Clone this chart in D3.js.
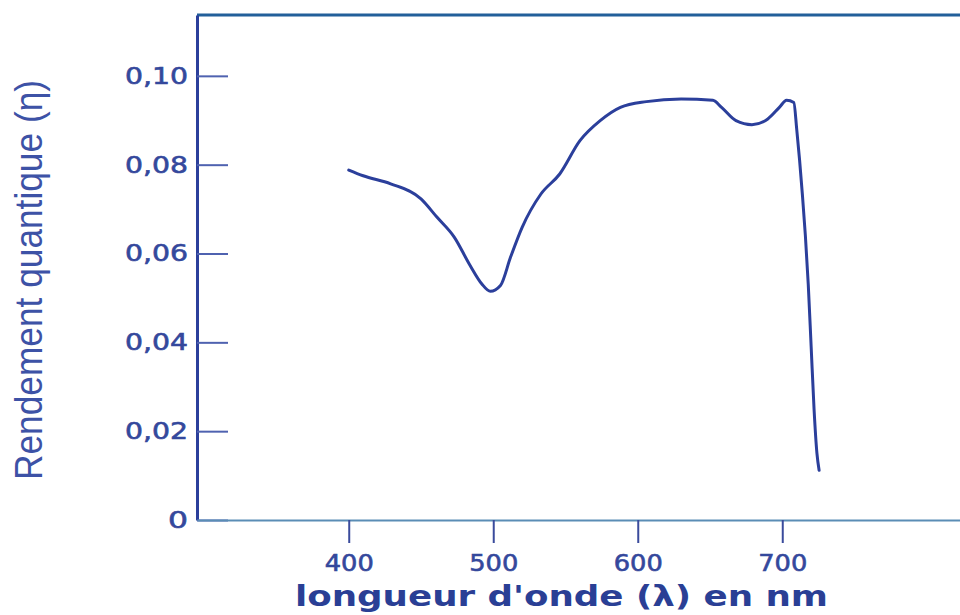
<!DOCTYPE html>
<html>
<head>
<meta charset="utf-8">
<script src="https://cdn.jsdelivr.net/npm/d3@7"></script>
<style>
  html, body { margin: 0; padding: 0; background: #ffffff; }
  svg { display: block; }
</style>
</head>
<body>
<svg id="chart" width="960" height="615"></svg>
<script>
// Quantum yield spectrum (wavelength in nm, yield)
const wavelengths = [400, 410, 429, 450, 461, 473, 484, 492, 498, 505, 512, 520, 533, 546, 560, 574, 588, 606, 630, 652, 658, 668, 679, 690, 698, 703, 708, 710, 712, 714, 716, 718, 720, 722, 724, 725.5];
const yieldValues = [0.0788, 0.0775, 0.0757, 0.0723, 0.0682, 0.0637, 0.0573, 0.0532, 0.0515, 0.0528, 0.0592, 0.0659, 0.0734, 0.0779, 0.0854, 0.0899, 0.0929, 0.0942, 0.0948, 0.0945, 0.0929, 0.0899, 0.0890, 0.0903, 0.0929, 0.0945, 0.0940, 0.0880, 0.0810, 0.0730, 0.0640, 0.0530, 0.0390, 0.0250, 0.0150, 0.0112];

const xTickValues = [400, 500, 600, 700];
const xTickLabels = ["400", "500", "600", "700"];
const yTickValues = [0, 0.02, 0.04, 0.06, 0.08, 0.10];
const yTickLabels = ["0", "0,02", "0,04", "0,06", "0,08", "0,10"];

const xTitle = "longueur d'onde (\u03BB) en nm";
const yTitle = "Rendement quantique (\u03B7)";

const svg = d3.select("#chart");
const plotLeft = 197, plotRight = 960, plotTop = 15, plotBottom = 520;

const x = d3.scaleLinear().domain([295, 823]).range([plotLeft, plotRight]);
const y = d3.scaleLinear().domain([0, 0.1137]).range([plotBottom, plotTop]);

const ink = "#2b3f9b";
const labelInk = "#34489c";

// top frame line
svg.append("line")
  .attr("x1", x.range()[0]).attr("x2", x.range()[1])
  .attr("y1", y.range()[1]).attr("y2", y.range()[1])
  .attr("stroke", "#225f9a").attr("stroke-width", 3);

// y axis: ticks point into the plot
const yAxis = d3.axisLeft(y)
  .tickValues(yTickValues)
  .tickFormat((d, i) => yTickLabels[i])
  .tickSizeInner(-31)
  .tickSizeOuter(0)
  .tickPadding(9);

const gy = svg.append("g").attr("transform", `translate(${plotLeft},0)`).call(yAxis);
gy.select(".domain").attr("stroke", ink).attr("stroke-width", 3);
gy.selectAll(".tick line").attr("stroke", "#4f62b0").attr("stroke-width", 2);
gy.selectAll(".tick text")
  .attr("fill", labelInk)
  .attr("stroke", labelInk)
  .attr("stroke-width", 0.6)
  .attr("font-family", "DejaVu Sans")
  .attr("font-size", 23)
  .attr("textLength", (d, i) => yTickLabels[i].length === 1 ? 20 : 63)
  .attr("lengthAdjust", "spacingAndGlyphs");

// x axis: ticks point downward
const xAxis = d3.axisBottom(x)
  .tickValues(xTickValues)
  .tickFormat((d, i) => xTickLabels[i])
  .tickSizeInner(23)
  .tickSizeOuter(0)
  .tickPadding(12);

const gx = svg.append("g").attr("transform", `translate(0,${plotBottom})`).call(xAxis);
gx.select(".domain").attr("stroke", "#5a8db5").attr("stroke-width", 2);
gx.selectAll(".tick line").attr("stroke", "#3a4b9c").attr("stroke-width", 2);
gx.selectAll(".tick text")
  .attr("fill", labelInk)
  .attr("stroke", labelInk)
  .attr("stroke-width", 0.6)
  .attr("font-family", "DejaVu Sans")
  .attr("font-size", 23)
  .attr("textLength", 49)
  .attr("lengthAdjust", "spacingAndGlyphs");

// spectrum curve
const pts = wavelengths.map((w, i) => [w, yieldValues[i]]);
const line = d3.line()
  .x(d => x(d[0]))
  .y(d => y(d[1]))
  .curve(d3.curveMonotoneX);

svg.append("path")
  .datum(pts)
  .attr("d", line)
  .attr("fill", "none")
  .attr("stroke", ink)
  .attr("stroke-width", 3)
  .attr("stroke-linejoin", "round")
  .attr("stroke-linecap", "round");

// axis titles
svg.append("text")
  .attr("x", 295).attr("y", 606)
  .attr("font-family", "DejaVu Sans")
  .attr("font-weight", "bold")
  .attr("font-size", 28)
  .attr("fill", "#2a3f95")
  .attr("textLength", 533)
  .attr("lengthAdjust", "spacingAndGlyphs")
  .text(xTitle);

svg.append("text")
  .attr("transform", "translate(42,280) rotate(-90)")
  .attr("text-anchor", "middle")
  .attr("font-family", "Liberation Sans")
  .attr("font-size", 39)
  .attr("fill", "#3d52a6")
  .attr("textLength", 400)
  .attr("lengthAdjust", "spacingAndGlyphs")
  .text(yTitle);
</script>
</body>
</html>
